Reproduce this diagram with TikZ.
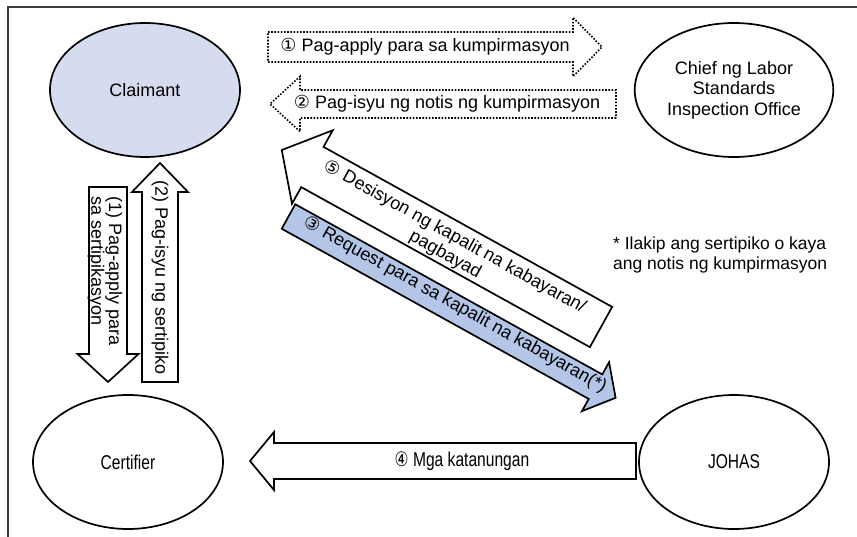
\documentclass[tikz,border=0pt]{standalone}
\usepackage{fontspec}
\usepackage{graphicx}
\setmainfont{Liberation Sans}
\newfontfamily\circfont{DejaVu Sans}
\usetikzlibrary{shapes.geometric}

\definecolor{claimfill}{RGB}{214,220,240}
\definecolor{reqfill}{RGB}{180,198,231}
\definecolor{framegray}{RGB}{60,60,60}

\newcommand{\cnum}[1]{{\circfont #1}}
\newcommand{\narrowbox}[1]{\scalebox{0.78}[1]{\fontsize{20}{22}\selectfont #1}}

\tikzset{
  party/.style={draw, ellipse, line width=1.7pt, minimum width=190pt, minimum height=134pt,
    align=center, font=\fontsize{18}{20.5}\selectfont},
  flowtext/.style={font=\fontsize{18}{20}\selectfont, inner sep=0pt},
  pics/blockarrow/.style args={#1/#2/#3/#4}{code={
    \path[pic actions] (0,-#2) -- (#1-#4,-#2) -- (#1-#4,-#3) -- (#1,0)
      -- (#1-#4,#3) -- (#1-#4,#2) -- (0,#2) -- cycle;}},
  solidarrow/.style={draw, line width=1.7pt, fill=white, line join=miter},
  dotarrow/.style={draw, line width=1.6pt, dash pattern=on 1.6pt off 1.6pt},
}

\begin{document}
\begin{tikzpicture}[x=1pt, y=-1pt]
  \useasboundingbox (0,0) rectangle (857,536);
  \draw[framegray, line width=2pt] (8,7) rectangle (900,600);

  % parties
  \node[party, fill=claimfill] (claimant) at (145,90) {Claimant};
  \node[party] (chief) at (734,90) {Chief ng Labor\\Standards\\Inspection Office};
  \node[party] (certifier) at (128,462) {\narrowbox{Certifier}};
  \node[party] (johas) at (734,462) {\narrowbox{JOHAS}};

  % confirmation
  \pic[dotarrow] at (268,47) {blockarrow=334/15/29.5/29};
  \node[flowtext] (confirmreq) at (425,47) {\cnum{①} Pag-apply para sa kumpirmasyon};
  \pic[dotarrow, rotate=180] at (616,104) {blockarrow=346/14/27.5/30};
  \node[flowtext] (confirmiss) at (447,104) {\cnum{②} Pag-isyu ng notis ng kumpirmasyon};

  % certification
  \pic[solidarrow, rotate=-90] at (108,187) {blockarrow=195/19/30.5/28};
  \node[flowtext, rotate=-90, align=left, anchor=west, font=\fontsize{18}{16}\selectfont]
    (certreq) at (105,196) {(1) Pag-apply para\\sa sertipikasyon};
  \pic[solidarrow, rotate=90] at (160,382) {blockarrow=219/18/28/29};
  \node[flowtext, rotate=-90] (certiss) at (160,278) {(2) Pag-isyu ng sertipiko};

  % payment
  \pic[solidarrow, rotate=151] at (601,327) {blockarrow=365/23/42/35};
  \node[flowtext, rotate=-29, align=center] (decision) at (450,246)
    {\cnum{⑤} Desisyon ng kapalit na kabayaran/\\pagbayad};
  \pic[solidarrow, fill=reqfill, rotate=-29] at (288.5,216.5) {blockarrow=374/14/28/23};
  \node[flowtext, rotate=-29] (payreq) at (455,305)
    {\cnum{③} Request para sa kapalit na kabayaran(*)};

  % inquiry
  \pic[solidarrow, rotate=180] at (636,461) {blockarrow=386/18/29/24};
  \node[flowtext] (inquiry) at (462,461) {\narrowbox{\cnum{④} Mga katanungan}};

  \node[flowtext, align=left, anchor=north west, font=\fontsize{17.5}{19.5}\selectfont]
    (note) at (613,237) {* Ilakip ang sertipiko o kaya\\ang notis ng kumpirmasyon};
\end{tikzpicture}
\end{document}
